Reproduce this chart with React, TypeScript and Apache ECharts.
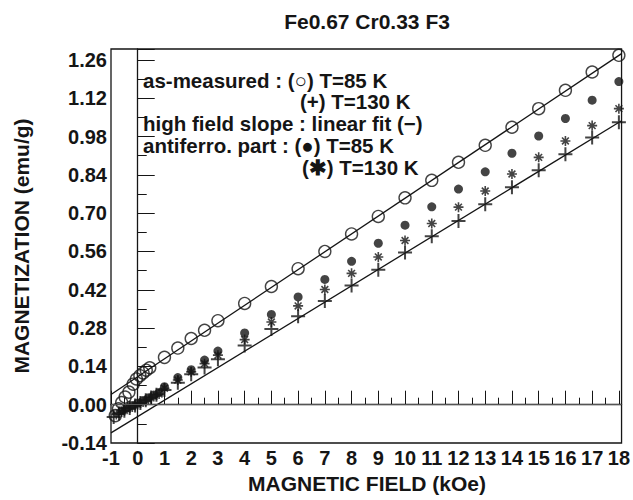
import { useEffect, useRef } from "react";
import * as echarts from "echarts";

// Magnetization curves of Fe0.67 Cr0.33 F3 (field in kOe, magnetization in emu/g)

// As-measured, T = 85 K (open circles)
const fields85 = [-0.84, -0.72, -0.6, -0.47, -0.33, -0.17, -0.05, 0.08, 0.2, 0.32, 0.45, 1, 1.5, 2, 2.5, 3, 4, 5, 6, 7, 8, 9, 10, 11, 12, 13, 14, 15, 16, 17, 18];
const measured85 = [-0.040, -0.015, 0.008, 0.028, 0.046, 0.075, 0.094, 0.106, 0.116, 0.126, 0.135, 0.173, 0.207, 0.242, 0.272, 0.307, 0.370, 0.432, 0.497, 0.560, 0.624, 0.688, 0.756, 0.820, 0.886, 0.948, 1.014, 1.082, 1.149, 1.216, 1.277];

// As-measured, T = 130 K (plus signs)
const fields130 = [-0.9, -0.7, -0.5, -0.3, -0.1, 0.1, 0.3, 0.5, 0.7, 1, 1.5, 2, 2.5, 3, 4, 5, 6, 7, 8, 9, 10, 11, 12, 13, 14, 15, 16, 17, 18];
const measured130 = [-0.045, -0.032, -0.022, -0.012, -0.003, 0.006, 0.016, 0.026, 0.036, 0.054, 0.080, 0.111, 0.136, 0.166, 0.216, 0.277, 0.323, 0.379, 0.436, 0.493, 0.556, 0.616, 0.671, 0.733, 0.795, 0.857, 0.915, 0.977, 1.032];

// Antiferromagnetic part, T = 85 K (filled dots)
const afFields85 = [-0.6, -0.4, -0.2, 0, 0.2, 0.4, 0.6, 0.8, 1, 1.5, 2, 2.5, 3, 4, 5, 6, 7, 8, 9, 10, 11, 12, 13, 14, 15, 16, 17, 18];
const antiferro85 = [-0.022, -0.012, -0.003, 0.006, 0.015, 0.025, 0.035, 0.045, 0.066, 0.099, 0.128, 0.163, 0.196, 0.262, 0.330, 0.394, 0.458, 0.524, 0.590, 0.656, 0.723, 0.788, 0.851, 0.919, 0.982, 1.046, 1.113, 1.181];

// Antiferromagnetic part, T = 130 K (asterisks)
const afFields130 = [-0.8, -0.6, -0.4, -0.2, 0, 0.2, 0.4, 0.6, 0.8, 1, 1.5, 2, 2.5, 3, 4, 5, 6, 7, 8, 9, 10, 11, 12, 13, 14, 15, 16, 17, 18];
const antiferro130 = [-0.036, -0.027, -0.017, -0.008, 0.001, 0.010, 0.020, 0.030, 0.039, 0.060, 0.090, 0.120, 0.150, 0.181, 0.238, 0.302, 0.361, 0.421, 0.480, 0.540, 0.600, 0.662, 0.722, 0.781, 0.843, 0.904, 0.964, 1.020, 1.082];

// High-field linear fits, given by their end points across the field range
const fitFields = [-1, 18.1];
const fit85 = [0.037, 1.283];
const fit130 = [-0.103, 1.038];

// Axis ranges and tick steps
const fieldMin = -1;
const fieldMax = 18.1;
const fieldStep = 1;
const magMin = -0.14;
const magMax = 1.3;
const magStep = 0.14;

const legendLines = [
  "as-measured : (\u25CB) T=85 K",
  "(+) T=130 K",
  "high field slope : linear fit (\u2212)",
  "antiferro. part : (\u25CF) T=85 K",
  "(\u2731) T=130 K",
];

const pairs = (xs: number[], ys: number[]) => xs.map((x, i) => [x, ys[i]]);

const INK = "#151515";
const FONT = '"Liberation Sans", Arial, Helvetica, sans-serif';

export default function App() {
  const ref = useRef<HTMLDivElement>(null);

  useEffect(() => {
    if (!ref.current) return;
    const chart = echarts.init(ref.current, undefined, { renderer: "svg" });

    const isMultiple = (v: number, step: number) =>
      Math.abs(v / step - Math.round(v / step)) < 1e-6;

    const labelStyle = {
      color: INK,
      fontFamily: FONT,
      fontWeight: "bold" as const,
      fontSize: 20,
    };

    const textStyle = (size: number) => ({
      fontFamily: FONT,
      fontWeight: "bold",
      fontSize: size,
      fill: INK,
    });

    const plus = "path://M0,6H12M6,0V12";
    const star = "path://M5,0V10M0,5H10M1.6,1.6L8.4,8.4M8.4,1.6L1.6,8.4";

    const legendX = [143, 300, 143, 143, 302];
    const legendY = [80, 101.5, 123, 145, 167];

    chart.setOption({
      animation: false,
      backgroundColor: "#fff",
      grid: {
        left: 111,
        right: 10,
        top: 49,
        bottom: 57,
        show: true,
        borderColor: INK,
        borderWidth: 1.3,
        backgroundColor: "transparent",
      },
      xAxis: [
        {
          type: "value",
          min: fieldMin,
          max: fieldMax,
          interval: fieldStep,
          position: "bottom",
          axisLine: { show: true, lineStyle: { color: INK, width: 1.3 } },
          axisTick: { show: true, inside: true, length: 14, lineStyle: { color: INK, width: 1 } },
          axisLabel: {
            ...labelStyle,
            margin: 5,
            formatter: (v: number) => (isMultiple(v, fieldStep) ? String(Math.round(v)) : ""),
          },
          splitLine: { show: false },
        },
        {
          type: "value",
          min: fieldMin,
          max: fieldMax,
          interval: fieldStep / 2,
          position: "bottom",
          axisLine: { show: false },
          axisTick: { show: true, inside: true, length: 7, lineStyle: { color: INK, width: 1 } },
          axisLabel: { show: false },
          splitLine: { show: false },
        },
      ],
      yAxis: [
        {
          type: "value",
          min: magMin,
          max: magMax,
          interval: magStep,
          position: "left",
          axisLine: { show: true, lineStyle: { color: INK, width: 1.3 } },
          axisTick: { show: true, inside: true, length: 17, lineStyle: { color: INK, width: 1 } },
          axisLabel: {
            ...labelStyle,
            margin: 4,
            formatter: (v: number) => (isMultiple(v, magStep) ? v.toFixed(2) : ""),
          },
          splitLine: { show: false },
        },
        {
          type: "value",
          min: magMin,
          max: magMax,
          interval: magStep / 2,
          position: "left",
          axisLine: { show: false },
          axisTick: { show: true, inside: true, length: 9, lineStyle: { color: INK, width: 1 } },
          axisLabel: { show: false },
          splitLine: { show: false },
        },
      ],
      series: [
        {
          type: "line",
          data: pairs(fitFields, fit85),
          symbol: "none",
          silent: true,
          lineStyle: { color: INK, width: 1.3 },
          z: 1,
          markLine: {
            silent: true,
            symbol: "none",
            label: { show: false },
            data: [
              { xAxis: 0, lineStyle: { color: INK, width: 1, type: "solid" } },
              { yAxis: 0, lineStyle: { color: "#555", width: 1, type: "solid" } },
            ],
          },
        },
        {
          type: "line",
          data: pairs(fitFields, fit130),
          symbol: "none",
          silent: true,
          lineStyle: { color: INK, width: 1.3 },
          z: 1,
        },
        {
          name: "as-measured 85 K",
          type: "scatter",
          data: pairs(fields85, measured85),
          symbol: "circle",
          symbolSize: 12,
          itemStyle: { color: "transparent", borderColor: INK, borderWidth: 1.4 },
          z: 3,
        },
        {
          name: "as-measured 130 K",
          type: "scatter",
          data: pairs(fields130, measured130),
          symbol: plus,
          symbolSize: 14,
          itemStyle: { color: "transparent", borderColor: INK, borderWidth: 2 },
          z: 3,
        },
        {
          name: "antiferro 130 K",
          type: "scatter",
          data: pairs(afFields130, antiferro130),
          symbol: star,
          symbolSize: 10,
          itemStyle: { color: "transparent", borderColor: INK, borderWidth: 1.6 },
          z: 4,
        },
        {
          name: "antiferro 85 K",
          type: "scatter",
          data: pairs(afFields85, antiferro85),
          symbol: "circle",
          symbolSize: 9,
          itemStyle: { color: INK, borderWidth: 0 },
          z: 4,
        },
      ],
      graphic: [
        {
          type: "text",
          x: 367,
          y: 21,
          style: {
            ...textStyle(21),
            text: "Fe0.67 Cr0.33 F3",
            textAlign: "center",
            textVerticalAlign: "middle",
          },
        },
        {
          type: "text",
          x: 367,
          y: 483,
          style: {
            ...textStyle(21),
            text: "MAGNETIC FIELD (kOe)",
            textAlign: "center",
            textVerticalAlign: "middle",
          },
        },
        {
          type: "text",
          x: 21,
          y: 246,
          rotation: Math.PI / 2,
          style: {
            ...textStyle(21),
            text: "MAGNETIZATION (emu/g)",
            textAlign: "center",
            textVerticalAlign: "middle",
          },
        },
        ...legendLines.map((t, i) => ({
          type: "text",
          x: legendX[i],
          y: legendY[i],
          z: 10,
          style: {
            ...textStyle(20.5),
            text: t,
            textAlign: "left",
            textVerticalAlign: "middle",
          },
        })),
      ],
    });

    return () => chart.dispose();
  }, []);

  return (
    <div
      ref={ref}
      style={{ position: "absolute", left: 0, top: 0, width: 633, height: 500 }}
    />
  );
}
